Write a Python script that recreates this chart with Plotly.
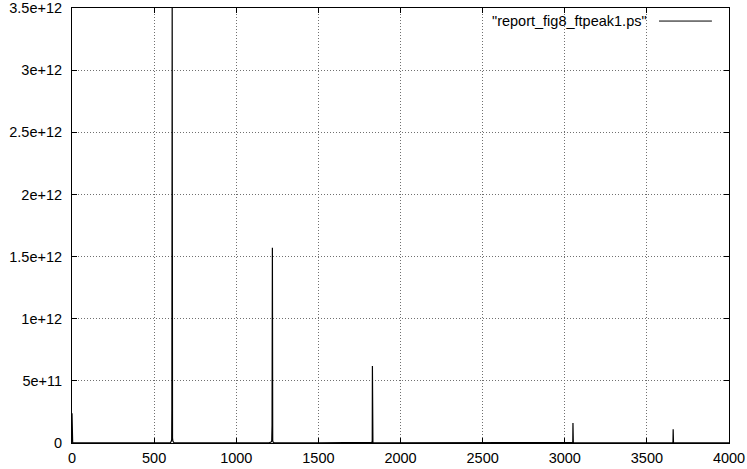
import plotly.graph_objects as go

# Spectrum samples (x = frequency bin, y = power)
freq = [0, 1, 2, 4, 8, 20, 100, 300, 590, 600, 605, 607, 608, 609, 610, 611, 612, 614, 620, 640,
        900, 1200, 1212, 1216, 1218, 1219, 1220, 1221, 1222, 1224, 1230, 1500,
        1820, 1826, 1828, 1829, 1830, 1831, 1832, 1840, 2440, 3040, 3048, 3049, 3050, 3051, 3052,
        3060, 3650, 3658, 3659, 3660, 3661, 3662, 3670, 4000]
power = [2.4e11, 1.0e10, 3.0e9, 1.5e9, 1.0e9, 8.0e8, 5.0e8, 5.0e8, 1.0e9, 4.0e9, 1.5e10, 3.0e10, 2.7e11, 2.53e12, 3.6e12, 2.3e11, 4.0e10, 1.5e10, 4.0e9, 1.0e9,
         6.0e8, 1.5e9, 8.0e9, 1.5e10, 1.45e11, 7.3e11, 1.57e12, 1.4e11, 2.0e10, 8.0e9, 2.0e9, 6.0e8,
         1.0e9, 6.0e9, 2.0e10, 6.2e11, 4.0e10, 1.0e10, 3.0e9, 8.0e8, 6.0e8, 1.0e9, 4.0e9, 1.2e10, 1.6e11, 1.0e10, 3.0e9,
         8.0e8, 1.0e9, 4.0e9, 1.0e10, 1.1e11, 9.0e9, 3.0e9, 8.0e8, 5.0e8]

x_ticks = [0, 500, 1000, 1500, 2000, 2500, 3000, 3500, 4000]
y_ticks = [0, 5e11, 1e12, 1.5e12, 2e12, 2.5e12, 3e12, 3.5e12]
y_labels = ["0", "5e+11", "1e+12", "1.5e+12", "2e+12", "2.5e+12", "3e+12", "3.5e+12"]
series_name = '"report_fig8_ftpeak1.ps"'

FONT = dict(family="Liberation Sans, Arial", size=14.5, color="black")

fig = go.Figure()
fig.add_trace(go.Scatter(x=freq, y=power, mode="lines", line=dict(color="black", width=1.2),
                         name=series_name, showlegend=False))

axis_common = dict(showline=True, linecolor="black", linewidth=1, mirror="ticks",
                   ticks="inside", ticklen=5, tickcolor="black",
                   showgrid=True, gridcolor="#707070", gridwidth=1, griddash="1px,2px",
                   zeroline=False, tickfont=FONT, automargin=False)

fig.update_layout(
    width=747, height=469,
    margin=dict(l=72, r=18, t=8, b=26),
    paper_bgcolor="white", plot_bgcolor="white",
    xaxis=dict(range=[0, 4000], tickvals=x_ticks, ticktext=[str(v) for v in x_ticks],
               ticklabelstandoff=2, **axis_common),
    yaxis=dict(range=[0, 3.5e12], tickvals=y_ticks, ticktext=y_labels,
               ticklabelstandoff=6, **axis_common),
)

fig.add_annotation(xref="paper", yref="paper", x=0.878, y=0.97, xanchor="right", yanchor="middle",
                   text=series_name, showarrow=False, font=FONT)
fig.add_shape(type="line", xref="paper", yref="paper", x0=0.8935, x1=0.974, y0=0.97, y1=0.97,
              line=dict(color="black", width=1))

fig.write_html("out.html")
